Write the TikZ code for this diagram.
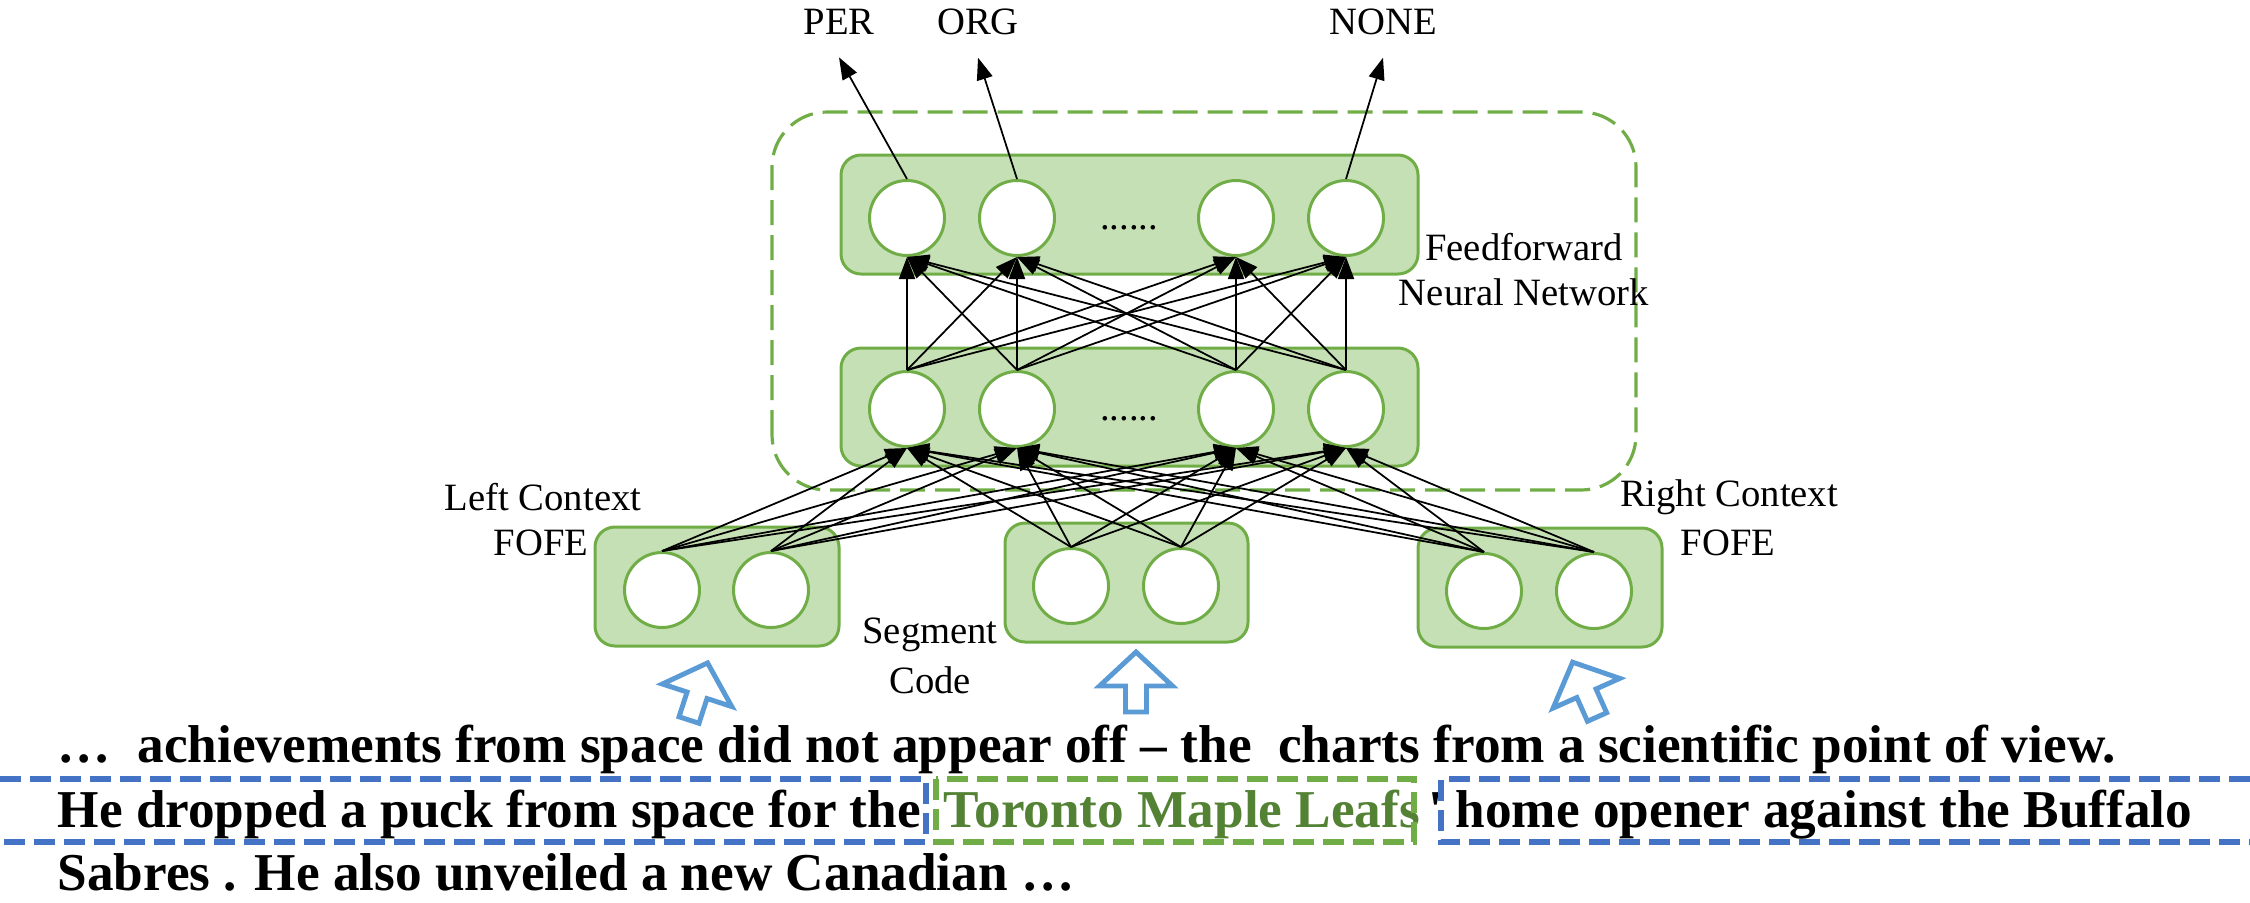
\documentclass[tikz,border=0pt]{standalone}
\usepackage{fontspec}
\setmainfont{Liberation Serif}
\usetikzlibrary{calc,positioning,arrows.meta,backgrounds}

\definecolor{layerfill}{HTML}{C5E0B4}
\definecolor{netgreen}{HTML}{70AD47}
\definecolor{entgreen}{HTML}{548235}
\definecolor{ctxblue}{HTML}{4472C4}
\definecolor{inblue}{HTML}{5B9BD5}

\begin{document}
\begin{tikzpicture}
\tikzstyle{unit}=[circle, draw=netgreen, line width=0.85pt, fill=white,
                        inner sep=0pt, minimum size=7.5mm]
\tikzstyle{layer}=[draw=netgreen, line width=0.85pt, fill=layerfill, rounded corners=2mm]
\tikzstyle{lbl}=[inner sep=0pt, font=\fontsize{11}{13}\selectfont]
\tikzstyle{conn}=[-{Triangle[length=2.2mm,width=1.6mm]}, line width=0.5pt]
\tikzstyle{sent}=[anchor=base west, inner sep=0pt, font=\fontsize{15.15}{18}\selectfont\bfseries]
\tikzstyle{ctxbox}=[draw=ctxblue, line width=1.7pt, dash pattern=on 2.1mm off 0.9mm]
\tikzstyle{entbox}=[draw=netgreen, line width=1.7pt, dash pattern=on 2.1mm off 0.9mm]
\tikzstyle{inarrow}=[draw=inblue, line width=1.4pt, fill=white, line join=miter]
\useasboundingbox (0,0) rectangle (22.5,9.02);
% hidden and output units
\foreach \i/\x in {1/9.07,2/10.17,3/12.36,4/13.46}{
  \node[unit] (o\i) at (\x,6.84) {};
  \node[unit] (h\i) at (\x,4.93) {};
}
\node[lbl, anchor=base] (odots) at (11.29,6.73) {......};
\node[lbl, anchor=base] (hdots) at (11.29,4.82) {......};
% input units
\foreach \i/\x/\y in {1/6.62/3.12,2/7.71/3.12,3/10.71/3.16,4/11.81/3.16,5/14.84/3.11,6/15.94/3.11}{
  \node[unit] (in\i) at (\x,\y) {};
}
% labels
\node[lbl, inner sep=2.2mm] (PER) at (8.39,8.80) {PER};
\node[lbl, inner sep=2.2mm] (ORG) at (9.78,8.80) {ORG};
\node[lbl, inner sep=2.2mm] (NONE) at (13.83,8.80) {NONE};
\node[lbl] (ff1) at (15.24,6.55) {Feedforward};
\node[lbl] (ff2) at (15.24,6.10) {Neural Network};
\node[lbl] (lc1) at (5.43,4.05) {Left Context};
\node[lbl] (lc2) at (5.41,3.59) {FOFE};
\node[lbl] (rc1) at (17.29,4.05) {Right Context};
\node[lbl] (rc2) at (17.28,3.59) {FOFE};
\node[lbl] (sc1) at (9.30,2.67) {Segment};
\node[lbl] (sc2) at (9.30,2.22) {Code};
% connections
\foreach \i in {1,...,6}{\foreach \j in {1,...,4}{\draw[conn] (in\i.north) -- (h\j.south);}}
\foreach \i in {1,...,4}{\foreach \j in {1,...,4}{\draw[conn] (h\i.north) -- (o\j.south);}}
\foreach \i/\j in {o1/PER,o2/ORG,o4/NONE}{\draw[conn] (\i.north) -- (\j.south);}
\begin{scope}[on background layer]
\draw[netgreen, line width=0.9pt, dash pattern=on 2.5mm off 1mm, rounded corners=5.5mm] (7.72,4.12) rectangle (16.36,7.90);
\draw[layer] (8.41,6.28) rectangle (14.18,7.47);
\draw[layer] (8.41,4.36) rectangle (14.18,5.54);
\draw[layer] (5.95,2.56) rectangle (8.39,3.75);
\draw[layer] (10.05,2.60) rectangle (12.48,3.79);
\draw[layer] (14.18,2.55) rectangle (16.62,3.74);
\end{scope}
% input arrows
\foreach \x/\y/\a in {6.89/1.82/-18,11.36/1.90/0,15.97/1.85/24}{
  \draw[inarrow, shift={(\x,\y)}, rotate=\a] (-0.105,0) -- (-0.105,0.26) -- (-0.365,0.26)
    -- (0,0.60) -- (0.365,0.26) -- (0.105,0.26) -- (0.105,0) -- cycle;
}
% sentence
\node[sent] (line1) at (0.57,1.40) {…\ \ achievements from space did not appear off – the\ \ charts from a scientific point of view.};
\node[sent] (line2a) at (0.57,0.75) {He dropped a puck from space for the};
\node[sent, text=entgreen] (entity) at (9.43,0.75) {Toronto Maple Leafs};
\node[sent] (quote) at (14.28,0.75) {\textquotesingle};
\node[sent] (line2b) at (14.55,0.75) {home opener against the Buffalo};
\node[sent] (line3) at (0.57,0.12) {Sabres . He also unveiled a new Canadian …};
\draw[ctxbox] (0,1.23) -| (9.26,0.60) -- (0,0.60);
\draw[entbox] (9.36,1.23) rectangle (14.14,0.60);
\draw[ctxbox] (22.5,1.23) -| (14.41,0.60) -- (22.5,0.60);
\end{tikzpicture}
\end{document}
